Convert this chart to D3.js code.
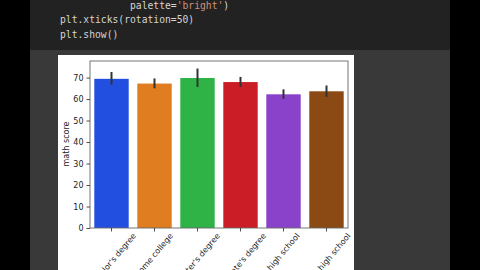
<!DOCTYPE html>
<html>
<head>
<meta charset="utf-8">
<script src="https://cdn.jsdelivr.net/npm/d3@7"></script>
<style>
  html, body { margin: 0; padding: 0; background: #000; }
  svg { display: block; }
</style>
</head>
<body>
<div id="chart"></div>
<script>
// values
const categories = ["bachelor's degree", "some college", "master's degree", "associate's degree", "high school", "some high school"];
const meanScores = [69.4, 67.2, 69.8, 67.9, 62.2, 63.6];
const ciLow = [66.7, 65.0, 65.6, 65.6, 60.1, 61.0];
const ciHigh = [72.6, 69.6, 74.2, 70.3, 64.5, 66.3];
const yTicks = [0, 10, 20, 30, 40, 50, 60, 70];
const barColors = ["#224fdf", "#df7d20", "#30b346", "#cb1d25", "#8a42cb", "#8b4a14"];
const codeLines = [
  [["palette=", "#d4d4d4"], ["'bright'", "#ce9178"], [")", "#d4d4d4"]],
  [["plt.xticks(rotation=50)", "#d4d4d4"]],
  [["plt.show()", "#d4d4d4"]]
];

const W = 480, H = 270;
const svg = d3.select("#chart").append("svg")
  .attr("width", W).attr("height", H);

// notebook background
svg.append("rect").attr("width", W).attr("height", H).attr("fill", "#000");
svg.append("rect").attr("x", 30).attr("y", 0).attr("width", 420).attr("height", 50).attr("fill", "#222");
svg.append("rect").attr("x", 30).attr("y", 50).attr("width", 420).attr("height", 220).attr("fill", "#393939");

// code cell text
const codeX = [130, 60, 60], codeY = [9, 23.3, 37.6];
codeLines.forEach(function (parts, i) {
  const t = svg.append("text")
    .attr("x", codeX[i]).attr("y", codeY[i])
    .style("font-family", "'DejaVu Sans Mono', monospace")
    .style("font-size", "9.7px");
  parts.forEach(function (p) {
    t.append("tspan").attr("fill", p[1]).text(p[0]);
  });
});

// output image
svg.append("rect").attr("x", 58).attr("y", 55).attr("width", 296).attr("height", 215).attr("fill", "#fff");

const margin = { left: 90, top: 61, right: 348, bottom: 228 };

const x = d3.scaleBand()
  .domain(categories)
  .range([margin.left, margin.right])
  .paddingInner(0.2)
  .paddingOuter(0.1);

const y = d3.scaleLinear()
  .domain([0, 77.7])
  .range([margin.bottom, margin.top]);

const g = svg.append("g");

// bars
g.selectAll("rect.bar")
  .data(categories)
  .enter()
  .append("rect")
  .attr("class", "bar")
  .attr("x", function (d) { return x(d); })
  .attr("y", function (d, i) { return y(meanScores[i]); })
  .attr("width", x.bandwidth())
  .attr("height", function (d, i) { return y(0) - y(meanScores[i]); })
  .attr("fill", function (d, i) { return barColors[i]; });

// error bars
g.selectAll("line.err")
  .data(categories)
  .enter()
  .append("line")
  .attr("class", "err")
  .attr("x1", function (d) { return x(d) + x.bandwidth() / 2; })
  .attr("x2", function (d) { return x(d) + x.bandwidth() / 2; })
  .attr("y1", function (d, i) { return y(ciLow[i]); })
  .attr("y2", function (d, i) { return y(ciHigh[i]); })
  .attr("stroke", "#333")
  .attr("stroke-width", 2);

// frame
g.append("rect")
  .attr("x", margin.left).attr("y", margin.top)
  .attr("width", margin.right - margin.left)
  .attr("height", margin.bottom - margin.top)
  .attr("fill", "none")
  .attr("stroke", "#666")
  .attr("stroke-width", 0.9);

// y axis
const yAxis = g.append("g")
  .attr("transform", "translate(" + margin.left + ",0)")
  .call(d3.axisLeft(y).tickValues(yTicks).tickSize(3.5).tickPadding(3));
yAxis.select(".domain").remove();
yAxis.selectAll(".tick line").attr("stroke", "#222").attr("stroke-width", 0.8);
yAxis.selectAll("text")
  .attr("fill", "#222")
  .style("font-family", "'DejaVu Sans', sans-serif")
  .style("font-size", "8px");

svg.append("text")
  .attr("transform", "translate(69,144) rotate(-90)")
  .attr("text-anchor", "middle")
  .attr("fill", "#222")
  .style("font-family", "'DejaVu Sans', sans-serif")
  .style("font-size", "8px")
  .text("math score");

// x axis with rotated labels, centered on the tick like matplotlib
const xAxis = g.append("g")
  .attr("transform", "translate(0," + margin.bottom + ")")
  .call(d3.axisBottom(x).tickSize(3.5).tickFormat(""));
xAxis.select(".domain").remove();
xAxis.selectAll(".tick line").attr("stroke", "#222").attr("stroke-width", 0.8);

const angle = 50 * Math.PI / 180;
const labelTop = margin.bottom + 3.5;
categories.forEach(function (c) {
  const t = svg.append("text")
    .attr("text-anchor", "middle")
    .attr("dominant-baseline", "central")
    .attr("fill", "#222")
    .style("font-family", "'DejaVu Sans', sans-serif")
    .style("font-size", "8px")
    .text(c);
  const len = t.node().getComputedTextLength();
  const boxH = len * Math.sin(angle) + 9 * Math.cos(angle);
  const cx = x(c) + x.bandwidth() / 2;
  t.attr("transform", "translate(" + cx + "," + (labelTop + boxH / 2) + ") rotate(-50)");
});
</script>
</body>
</html>
